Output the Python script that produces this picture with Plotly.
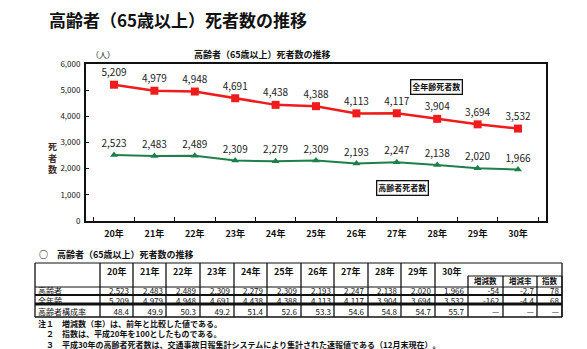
import plotly.graph_objects as go

# ---------------- data ----------------
years = ["20年", "21年", "22年", "23年", "24年", "25年", "26年", "27年", "28年", "29年", "30年"]
elderly = [2523, 2483, 2489, 2309, 2279, 2309, 2193, 2247, 2138, 2020, 1966]
all_ages = [5209, 4979, 4948, 4691, 4438, 4388, 4113, 4117, 3904, 3694, 3532]
ratio = [48.4, 49.9, 50.3, 49.2, 51.4, 52.6, 53.3, 54.6, 54.8, 54.7, 55.7]
y_tickvals = [0, 1000, 2000, 3000, 4000, 5000, 6000]
y_ticktext = ["0", "1,000", "2,000", "3,000", "4,000", "5,000", "6,000"]
row_labels = ["高齢者", "全年齢", "高齢者構成率"]
change_heads = ["増減数", "増減率", "指数"]
elderly_change = ["-54", "-2.7", "78"]
all_change = ["-162", "-4.4", "68"]
ratio_change = ["—", "—", "—"]
notes = [
    "注１　増減数（率）は、前年と比較した値である。",
    "　２　指数は、平成20年を100としたものである。",
    "　３　平成30年の高齢者死者数は、交通事故日報集計システムにより集計された速報値である（12月末現在）。",
]

FONT = "Noto Sans CJK JP, sans-serif"
W, H = 587, 349
L, R, T, B = 86, 546, 64, 221


def px(x):
    return (x - L) / (R - L)


def py(y):
    return (B - y) / (B - T)


fig = go.Figure()

fig.add_trace(go.Scatter(
    x=years, y=all_ages, mode="lines+markers+text",
    text=[f"{v:,}" for v in all_ages], textposition="top center",
    textfont=dict(size=10, color="#222", family=FONT),
    line=dict(color="#EE1C1C", width=2.5),
    marker=dict(symbol="square", size=8, color="#EE1C1C"),
    cliponaxis=False, showlegend=False,
))
fig.add_trace(go.Scatter(
    x=years, y=elderly, mode="lines+markers+text",
    text=[f"{v:,}" for v in elderly], textposition="top center",
    textfont=dict(size=10, color="#222", family=FONT),
    line=dict(color="#1E7F4A", width=2),
    marker=dict(symbol="triangle-up", size=7, color="#1E7F4A"),
    cliponaxis=False, showlegend=False,
))

annotations = []
shapes = []


def ann(x, y, text, size=9, bold=False, xanchor="center", color="#111", **kw):
    kw.setdefault("borderpad", 0)
    annotations.append(dict(
        x=px(x), y=py(y), xref="paper", yref="paper", text=f"<b>{text}</b>" if bold else text,
        showarrow=False, xanchor=xanchor, yanchor="middle",
        font=dict(size=size, color=color, family=FONT), **kw))


def line(x0, y0, x1, y1, w=1, color="#111"):
    shapes.append(dict(type="line", xref="paper", yref="paper",
                       x0=px(x0), y0=py(y0), x1=px(x1), y1=py(y1),
                       line=dict(color=color, width=w)))


# titles
ann(48, 19, "高齢者（65歳以上）死者数の推移", size=17, bold=True, xanchor="left")
ann(262, 54, "高齢者（65歳以上）死者数の推移", size=9, bold=True)
ann(103, 54, "（人）", size=8)
ann(52, 158, "死<br>者<br>数", size=9, bold=True, color="#3d2b1f")

# legend boxes
ann(436, 87, "全年齢死者数", size=8, bold=True, bordercolor="#111", borderwidth=1.3, bgcolor="white", borderpad=1)
ann(402, 188, "高齢者死者数", size=8, bold=True, bordercolor="#111", borderwidth=1.3, bgcolor="white", borderpad=1)

# ---------------- table ----------------
ann(38, 254, "○　高齢者（65歳以上）死者数の推移", size=9, bold=True, xanchor="left")

col_edges = [35, 100, 133, 166, 200, 234, 267, 301, 334, 368, 401, 435, 468, 503, 537, 562]
top, head_bot, r1, r2, r3 = 263, 287, 295, 304, 317
sub_top = 276

# horizontal lines
line(35, top, 562, top, 1)
line(35, head_bot, 562, head_bot, 1)
line(35, r1, 562, r1, 2)
line(35, r2, 562, r2, 3)
line(35, r3, 562, r3, 1.5)
line(468, sub_top, 562, sub_top, 1)
# vertical lines
for i, xe in enumerate(col_edges):
    line(xe, top if i <= 11 else sub_top, xe, r3, 1.3)
line(562, top, 562, r3, 1.3)

# header text
for i, yname in enumerate(years):
    cx = (col_edges[i + 1] + col_edges[i + 2]) / 2
    ann(cx, 271.5, yname, size=9, bold=True)
for j, h in enumerate(change_heads):
    cx = (col_edges[12 + j] + col_edges[13 + j]) / 2
    ann(cx, 280.5, h, size=7.5, bold=True)

body_y = 301
ann(37, body_y, "<br>".join(row_labels), size=8, xanchor="left", align="left")

for i in range(len(years)):
    xr = col_edges[i + 2] - 2
    col_text = "<br>".join([f"{elderly[i]:,}", f"{all_ages[i]:,}", f"{ratio[i]:.1f}"])
    ann(xr, body_y, col_text, size=8, xanchor="right", align="right")
for j in range(3):
    xr = col_edges[13 + j] - 2
    col_text = "<br>".join([elderly_change[j], all_change[j], ratio_change[j]])
    ann(xr, body_y, col_text, size=8, xanchor="right", align="right")

# notes
ann(37, 333.5, "<br>".join(notes), size=8, bold=True, xanchor="left", align="left")

fig.update_layout(
    width=W, height=H,
    margin=dict(l=L, r=W - R, t=T, b=H - B),
    paper_bgcolor="white", plot_bgcolor="white",
    font=dict(family=FONT, color="#111"),
    annotations=annotations, shapes=shapes,
    xaxis=dict(
        type="category", showgrid=False, showline=True, linecolor="#111", linewidth=2, mirror=True,
        ticks="inside", tickson="boundaries", ticklen=4, tickcolor="#111",
        tickfont=dict(size=9, family=FONT, color="#111"), ticklabelstandoff=3,
        tickprefix="<b>", ticksuffix="</b>",
    ),
    yaxis=dict(
        range=[0, 6000], tickvals=y_tickvals, ticktext=y_ticktext,
        showgrid=False, showline=True, linecolor="#111", linewidth=2, mirror=True,
        ticks="inside", ticklen=3, tickcolor="#111", zeroline=False,
        tickfont=dict(size=8, family=FONT, color="#111"), ticklabelstandoff=2,
    ),
)

fig.write_html("out.html")
